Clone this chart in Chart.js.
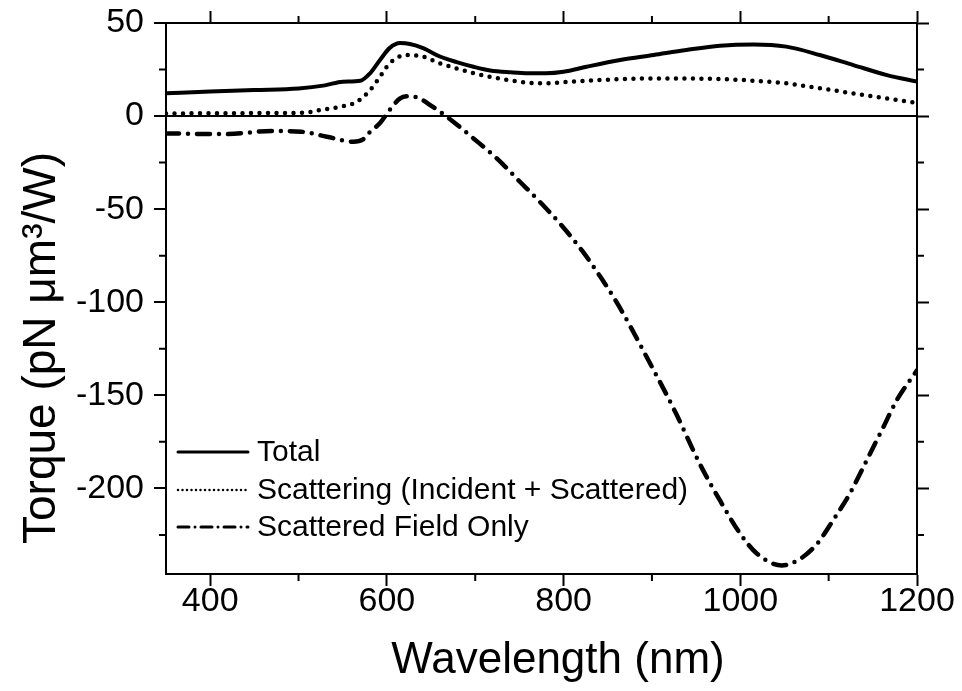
<!DOCTYPE html>
<html>
<head>
<meta charset="utf-8">
<script src="https://cdn.jsdelivr.net/npm/chart.js@4.4.0/dist/chart.umd.min.js"></script>
<style>
html, body { margin: 0; padding: 0; background: #fff; }
#wrap { width: 962px; height: 691px; }
</style>
</head>
<body>
<div id="wrap"><canvas id="torqueChart" width="962" height="691"></canvas></div>
<script>
// values: wavelength (nm) -> torque (pN um^3/W)
const totalWl = [350, 400, 450, 500, 530, 550, 570, 581, 592, 603, 615, 626, 641, 660, 679, 698, 717, 740, 760, 780, 800, 826, 864, 902, 939, 977, 1015, 1052, 1090, 1128, 1166, 1200];
const totalTorque = [12.2, 13.2, 14, 14.8, 16.5, 18.5, 19, 23, 30, 36.5, 39.2, 38.7, 36.5, 32, 29, 26.5, 24.5, 23.5, 23, 23, 23.8, 26.5, 30.1, 32.8, 35.5, 37.8, 38.5, 37.3, 32.8, 27.4, 22, 18.5];

const scatWl = [350, 400, 450, 507, 524, 547, 566, 581, 592, 603, 622, 641, 660, 679, 698, 717, 736, 773, 826, 902, 977, 1015, 1052, 1090, 1128, 1166, 1200];
const scatTorque = [1.4, 1.5, 1.6, 1.8, 3.2, 5, 7.7, 14, 21, 28.3, 32.8, 31.9, 28.3, 25.6, 23, 21.1, 19.4, 17.6, 19, 20.2, 19.9, 19, 17.6, 14.9, 12.2, 9.5, 7];

const fieldWl = [350, 415, 471, 503, 532, 562, 573, 581, 592, 603, 615, 626, 637, 649, 668, 698, 725, 750, 775, 800, 822, 843, 862, 879, 896, 913, 928, 954, 977, 1000, 1019, 1047, 1068, 1087, 1105, 1124, 1143, 1162, 1177, 1200];
const fieldTorque = [-9.3, -9.7, -8, -8.4, -11.1, -13.8, -12.5, -8.4, -3.9, 3.2, 9.5, 10.7, 9.5, 5.9, -0.4, -12, -23, -35, -47, -60, -73, -87.3, -101.6, -116, -131.2, -146.4, -160.5, -186.7, -206.5, -224.4, -235.1, -241.4, -237.8, -229.7, -217.2, -202.8, -185, -167, -152.7, -136.6];

const seriesNames = ['Total', 'Scattering (Incident + Scattered)', 'Scattered Field Only'];
const xTitle = 'Wavelength (nm)';
const yTitle = 'Torque (pN μm³/W)';

const xTicks = [400, 600, 800, 1000, 1200];
const xMinorTicks = [500, 700, 900, 1100];
const yTicks = [50, 0, -50, -100, -150, -200];
const yMinorTicks = [25, -25, -75, -125, -175, -225];

const FONT = "'Liberation Sans', Arial, Helvetica, sans-serif";
const pairs = (xs, ys) => xs.map((x, i) => ({ x: x, y: ys[i] }));

// legend line styles (finer than the plotted lines, like the original)
const legendStyle = [
  { width: 3, dash: [] },
  { width: 2.5, dash: [0, 4.5] },
  { width: 3, dash: [11, 6, 0, 6] }
];

const minorTicks = {
  id: 'minorTicks',
  afterDraw(chart) {
    const { ctx, chartArea: a } = chart;
    const len = 7;
    ctx.save();
    ctx.strokeStyle = '#000';
    ctx.lineWidth = 2;
    ctx.beginPath();
    xMinorTicks.forEach(v => {
      const px = chart.scales.x.getPixelForValue(v);
      ctx.moveTo(px, a.bottom); ctx.lineTo(px, a.bottom + len);
      ctx.moveTo(px, a.top); ctx.lineTo(px, a.top - len);
    });
    yMinorTicks.forEach(v => {
      const py = chart.scales.y.getPixelForValue(v);
      ctx.moveTo(a.left, py); ctx.lineTo(a.left - len, py);
      ctx.moveTo(a.right, py); ctx.lineTo(a.right + len, py);
    });
    ctx.stroke();
    ctx.restore();
  }
};

// axis titles sit a little off-centre in the original, so they are drawn here
const axisTitles = {
  id: 'axisTitles',
  afterDraw(chart) {
    const { ctx, chartArea: a } = chart;
    ctx.save();
    ctx.fillStyle = '#000';
    ctx.textAlign = 'center';
    ctx.textBaseline = 'alphabetic';
    ctx.font = '44px ' + FONT;
    ctx.fillText(xTitle, a.left + 392, a.bottom + 99);
    ctx.translate(a.left - 111, a.top + 325);
    ctx.rotate(-Math.PI / 2);
    ctx.font = '46px ' + FONT;
    ctx.fillText(yTitle, 0, 0);
    ctx.restore();
  }
};

const insideLegend = {
  id: 'insideLegend',
  afterDraw(chart) {
    const { ctx, chartArea: a } = chart;
    const rows = [a.bottom - 122, a.bottom - 84, a.bottom - 47];
    chart.data.datasets.forEach((ds, i) => {
      ctx.save();
      ctx.strokeStyle = '#000';
      ctx.lineWidth = legendStyle[i].width;
      ctx.lineCap = ds.borderCapStyle || 'butt';
      ctx.setLineDash(legendStyle[i].dash);
      ctx.beginPath();
      ctx.moveTo(a.left + 12, rows[i]);
      ctx.lineTo(a.left + 82, rows[i]);
      ctx.stroke();
      ctx.setLineDash([]);
      ctx.fillStyle = '#000';
      ctx.font = '30px ' + FONT;
      ctx.textBaseline = 'middle';
      ctx.fillText(ds.label, a.left + 91, rows[i] + 1);
      ctx.restore();
    });
  }
};

const tickFont = { family: FONT, size: 34 };
const axisGrid = { drawOnChartArea: false, drawTicks: true, tickLength: 12, tickWidth: 2, tickColor: '#000' };
const axisBorder = { display: true, color: '#000', width: 2 };
const plainLabel = v => String(v);
// fixed box sizes, no extra room for overhanging edge labels
const fixSize = (w, h) => s => {
  if (w !== null) s.width = w;
  if (h !== null) s.height = h;
  s.paddingTop = 0; s.paddingBottom = 0; s.paddingLeft = 0; s.paddingRight = 0;
};

const ctx = document.getElementById('torqueChart').getContext('2d');
const chart = new Chart(ctx, {
  type: 'line',
  data: {
    datasets: [
      {
        label: seriesNames[0],
        data: pairs(totalWl, totalTorque),
        borderColor: '#000',
        borderWidth: 4,
        borderCapStyle: 'round'
      },
      {
        label: seriesNames[1],
        data: pairs(scatWl, scatTorque),
        borderColor: '#000',
        borderWidth: 4.5,
        borderDash: [0, 8.5],
        borderCapStyle: 'round'
      },
      {
        label: seriesNames[2],
        data: pairs(fieldWl, fieldTorque),
        borderColor: '#000',
        borderWidth: 4.5,
        borderDash: [13, 9, 0, 9],
        borderCapStyle: 'round'
      }
    ]
  },
  options: {
    responsive: false,
    animation: false,
    devicePixelRatio: 1,
    layout: { padding: 0 },
    elements: {
      point: { radius: 0 },
      line: { cubicInterpolationMode: 'monotone', fill: false }
    },
    plugins: {
      legend: { display: false },
      tooltip: { enabled: false }
    },
    scales: {
      x: {
        type: 'linear',
        position: 'bottom',
        min: 350,
        max: 1200,
        afterBuildTicks: s => { s.ticks = xTicks.map(v => ({ value: v })); },
        afterFit: fixSize(null, 117),
        ticks: { font: tickFont, color: '#000', padding: -5, maxRotation: 0, autoSkip: false, callback: plainLabel },
        grid: axisGrid,
        border: axisBorder
      },
      xTop: {
        type: 'linear',
        position: 'top',
        min: 350,
        max: 1200,
        afterBuildTicks: s => { s.ticks = xTicks.map(v => ({ value: v })); },
        afterFit: fixSize(null, 23),
        ticks: { display: false },
        grid: axisGrid,
        border: axisBorder
      },
      y: {
        type: 'linear',
        position: 'left',
        min: -246,
        max: 50,
        afterBuildTicks: s => { s.ticks = yTicks.map(v => ({ value: v })); },
        afterFit: fixSize(166, null),
        ticks: { font: tickFont, color: '#000', padding: 10, callback: plainLabel },
        grid: {
          drawOnChartArea: true,
          drawTicks: true,
          tickLength: 12,
          tickWidth: 2,
          tickColor: '#000',
          lineWidth: 2,
          color: c => (c.tick && c.tick.value === 0 ? '#000' : 'rgba(0,0,0,0)')
        },
        border: axisBorder
      },
      yRight: {
        type: 'linear',
        position: 'right',
        min: -246,
        max: 50,
        afterBuildTicks: s => { s.ticks = yTicks.map(v => ({ value: v })); },
        afterFit: fixSize(45, null),
        ticks: { display: false },
        grid: axisGrid,
        border: axisBorder
      }
    }
  },
  plugins: [minorTicks, axisTitles, insideLegend]
});
</script>
</body>
</html>
